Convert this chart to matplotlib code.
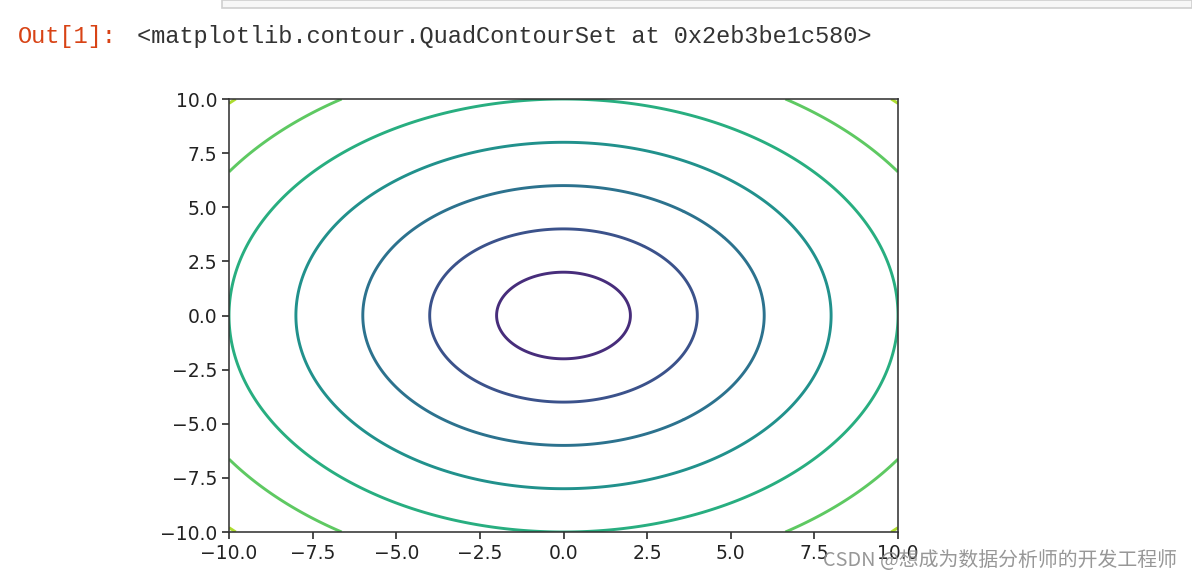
import numpy as np
import matplotlib.pyplot as plt
from matplotlib.patches import Rectangle

# contour levels (radius values) and axis ticks
levels = [2, 4, 6, 8, 10, 12, 14]
color_range = (0, 16)
xlim = (-10, 10)
ylim = (-10, 10)
ticks = [-10.0, -7.5, -5.0, -2.5, 0.0, 2.5, 5.0, 7.5, 10.0]

out_prompt = "Out[1]:"
out_text = "<matplotlib.contour.QuadContourSet at 0x2eb3be1c580>"
watermark = "CSDN @想成为数据分析师的开发工程师"

x = np.linspace(xlim[0], xlim[1], 401)
y = np.linspace(ylim[0], ylim[1], 401)
X, Y = np.meshgrid(x, y)
Z = np.sqrt(X**2 + Y**2)

W, H = 1192, 579
fig = plt.figure(figsize=(W / 100, H / 100), dpi=100)

# previous cell's input box edge at the top
fig.patches.append(Rectangle((222 / W, 1 - 8 / H), (W - 222) / W, 8 / H,
                             transform=fig.transFigure, facecolor="#f7f7f7",
                             edgecolor="#cfcfcf", linewidth=1.2))

fig.text(18 / W, 1 - 37 / H, out_prompt, color="#d84315", fontsize=17,
         family="Liberation Mono", va="center", ha="left")
fig.text(137 / W, 1 - 37 / H, out_text, color="#333333", fontsize=17,
         family="Liberation Mono", va="center", ha="left")

ax = fig.add_axes([229 / W, 1 - 532 / H, (898 - 229) / W, (532 - 99) / H])
ax.contour(X, Y, Z, levels=levels, linewidths=2.1,
           vmin=color_range[0], vmax=color_range[1])
ax.set_xlim(xlim)
ax.set_ylim(ylim)
ax.set_xticks(ticks)
ax.set_yticks(ticks)
ax.tick_params(labelsize=13.5, length=5, width=1.15, colors="#222222")
for s in ax.spines.values():
    s.set_linewidth(1.15)
    s.set_color("#333333")

fig.text(1000 / W, 1 - 561 / H, watermark, color="#8c8c8c", fontsize=14.3,
         family=["Noto Sans CJK SC", "DejaVu Sans"], va="center", ha="center",
         alpha=0.9)

fig.savefig("out.png", dpi=100)
